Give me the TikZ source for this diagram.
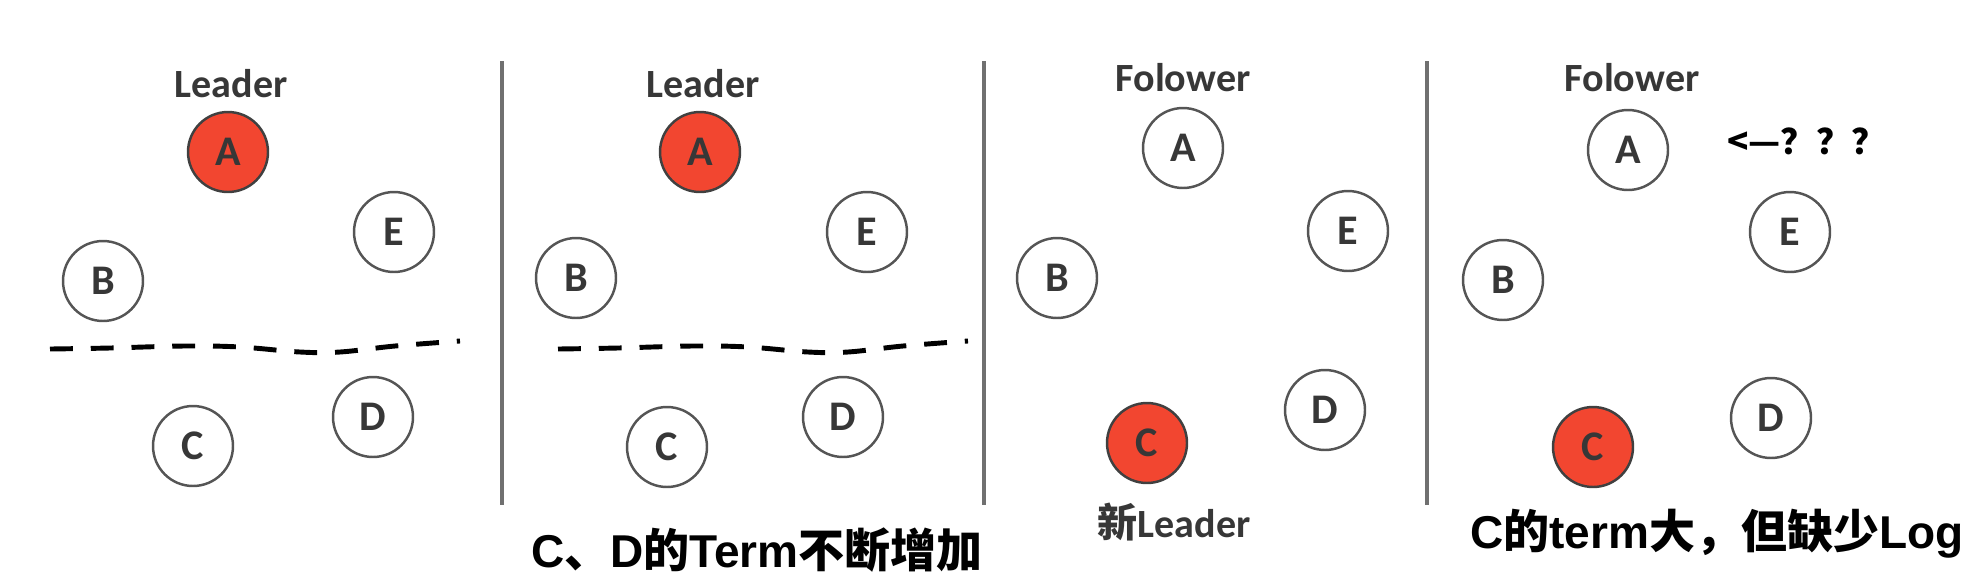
\documentclass[tikz,border=0pt]{standalone}
\usepackage{fontspec}
\usepackage{xcolor}
\usepackage{tikz}
\usetikzlibrary{positioning}
\setmainfont{Carlito}
\newfontfamily\capfont{Liberation Sans}
\newfontfamily\cjk{Noto Sans CJK SC}
\definecolor{nodered}{RGB}{242,70,48}
\definecolor{rimgray}{RGB}{85,85,85}
\definecolor{textgray}{RGB}{55,55,55}
\definecolor{linegray}{RGB}{112,112,112}

\begin{document}
\begin{tikzpicture}[
    x=0.02cm, y=-0.02cm,
    % 服务器节点
    server/.style={circle, draw=rimgray, line width=1.4pt, fill=white, minimum size=1.6cm, inner sep=0pt, font=\bfseries\fontsize{24}{24}\selectfont, text=textgray},
    % 当前的 Leader
    leader/.style={server, fill=nodered, draw=black!75},
    % 角色标签
    role/.style={font=\bfseries\fontsize{22.8}{24}\selectfont, text=textgray, inner sep=0pt, anchor=base},
    % 底部说明
    caption/.style={font=\capfont\bfseries\fontsize{26.2}{28}\selectfont, inner sep=0pt, anchor=base},
    % 分隔线与网络分区
    divider/.style={draw=linegray, line width=2.3pt},
    partition/.style={draw=black, line width=2.8pt, dash pattern=on 13pt off 10.2pt}
]
\useasboundingbox (0,0) rectangle (1984,586);

% 第一阶段
\node[role] (lead1) at (231,97) {Leader};
\node[leader] (a1) at (228,152) {A};
\node[server] (e1) at (394,232) {E};
\node[server] (b1) at (103,281) {B};
\node[server] (c1) at (193,446) {C};
\node[server] (d1) at (373,417) {D};
\draw[partition] plot[smooth, tension=0.6] coordinates {(50,349) (110,348) (185,346) (240,347) (300,352) (340,352) (395,346) (460,341)};

\draw[divider] (502,61) -- (502,505);

% 第二阶段
\node[role] (lead2) at (703,97) {Leader};
\node[leader] (a2) at (700,152) {A};
\node[server] (e2) at (867,232) {E};
\node[server] (b2) at (576,278) {B};
\node[server] (c2) at (667,447) {C};
\node[server] (d2) at (843,417) {D};
\draw[partition, shift={(508,0)}] plot[smooth, tension=0.6] coordinates {(50,349) (110,348) (185,346) (240,347) (300,352) (340,352) (395,346) (460,341)};
\node[caption] (cap2) at (757,567) {C{\cjk 、}D{\cjk 的}Term{\cjk 不断增加}};

\draw[divider] (984,61) -- (984,505);

% 第三阶段
\node[role] (foll3) at (1183,91) {Folower};
\node[server] (a3) at (1183,148) {A};
\node[server] (e3) at (1348,231) {E};
\node[server] (b3) at (1057,278) {B};
\node[leader] (c3) at (1147,443) {C};
\node[server] (d3) at (1325,410) {D};
\node[role] (lead3) at (1174,537) {{\cjk 新}Leader};

\draw[divider] (1427,61) -- (1427,505);

% 第四阶段
\node[role] (foll4) at (1632,91) {Folower};
\node[server] (a4) at (1628,150) {A};
\node[server] (e4) at (1790,232) {E};
\node[server] (b4) at (1503,280) {B};
\node[leader] (c4) at (1593,447) {C};
\node[server] (d4) at (1771,418) {D};
\node[anchor=base west, inner sep=0pt, font=\cjk\bfseries\fontsize{20}{22}\selectfont] (ask4) at (1727,154) {<—？？？};
\node[caption] (cap4) at (1717,548) {C{\cjk 的}term{\cjk 大，但缺少}Log};

\end{tikzpicture}
\end{document}
